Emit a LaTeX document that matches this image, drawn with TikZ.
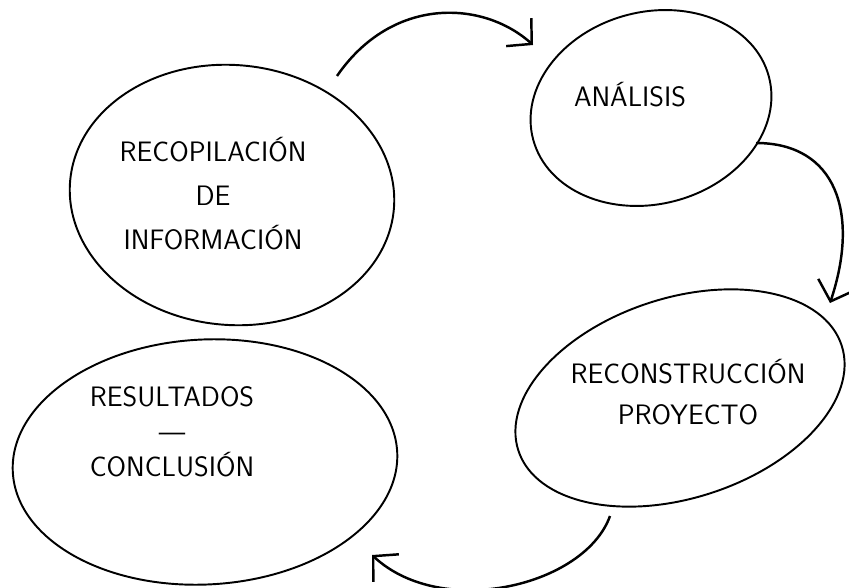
\documentclass[tikz,border=0pt]{standalone}
\usepackage{fontspec}
\usepackage{tikz}
\usetikzlibrary{shapes.geometric, arrows.meta, positioning, calc}

\begin{document}
\begin{tikzpicture}[
    x=0.02cm, y=0.02cm,
    blob/.style={ellipse, draw, line width=1.1pt, inner sep=0pt},
    lbl/.style={align=center, font=\sffamily\fontsize{16pt}{20pt}\selectfont},
    arrow/.style={-{Straight Barb[length=3.5mm, width=7.5mm]}, line width=1.4pt}
]
\useasboundingbox (0,0) rectangle (849,-588);

% Nodes
\node [blob, minimum width=6.5cm, minimum height=5.2cm, rotate=-5] (rec) at (232,-195) {};
\node [blob, minimum width=4.88cm, minimum height=3.84cm, rotate=15] (ana) at (651,-108) {};
\node [blob, minimum width=6.8cm, minimum height=4.0cm, rotate=18] (recon) at (680,-398) {};
\node [blob, minimum width=7.7cm, minimum height=4.9cm, rotate=3] (res) at (205,-462) {};

\node [lbl] (rec-txt) at (213,-194) {RECOPILACIÓN\\[5pt] DE\\[5pt] INFORMACIÓN};
\node [lbl] (ana-txt) at (630,-95) {ANÁLISIS};
\node [lbl] (recon-txt) at (688,-392) {RECONSTRUCCIÓN\\[3pt] PROYECTO};
\node [lbl] (res-txt) at (172,-432) {RESULTADOS\\ —\\ CONCLUSIÓN};

% Paths
\draw [arrow] ([shift={(105,119)}]rec.center) .. controls +(55,80) and +(-50,45) .. ([shift={(-118,63)}]ana.center);
\draw [arrow] ([shift={(105,-35)}]ana.center) .. controls +(80,0) and +(30,90) .. ([shift={(150,95)}]recon.center);
\draw [arrow] ([shift={(-70,-118)}]recon.center) .. controls +(-25,-70) and +(70,-65) .. ([shift={(167,-93)}]res.center);

\end{tikzpicture}
\end{document}
